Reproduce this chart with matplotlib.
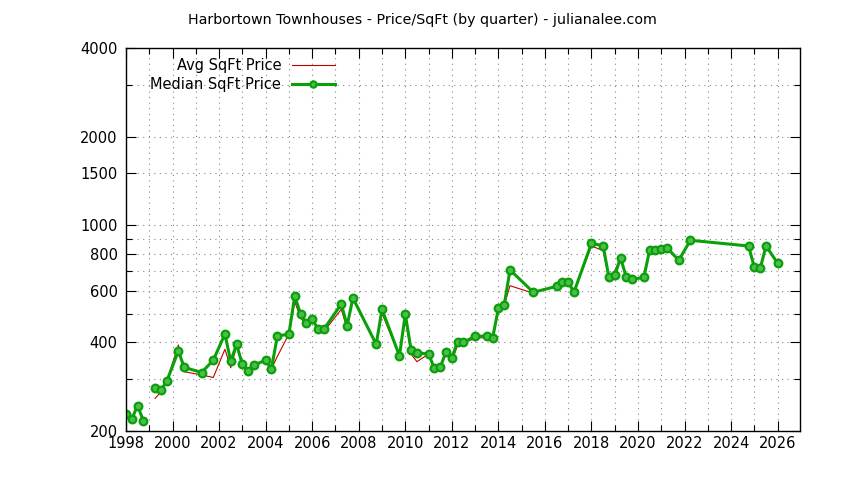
import numpy as np
import matplotlib
matplotlib.use("Agg")
import matplotlib.pyplot as plt
from matplotlib.ticker import FixedLocator, NullFormatter

plt.rcParams["font.family"] = "DejaVu Sans"

# quarter positions (decimal year), NaN row breaks the line after 1998
quarters = [
    1998.00, 1998.25, 1998.50, 1998.75, 1999.00, 1999.25, 1999.50, 1999.75,
    2000.25, 2000.50, 2001.25, 2001.75, 2002.25, 2002.50, 2002.75, 2003.00,
    2003.25, 2003.50, 2004.00, 2004.25, 2004.50, 2005.00, 2005.25, 2005.50,
    2005.75, 2006.00, 2006.25, 2006.50, 2007.25, 2007.50, 2007.75, 2008.75,
    2009.00, 2009.75, 2010.00, 2010.25, 2010.50, 2011.00, 2011.25, 2011.50,
    2011.75, 2012.00, 2012.25, 2012.50, 2013.00, 2013.50, 2013.75, 2014.00,
    2014.25, 2014.50, 2015.50, 2016.50, 2016.75, 2017.00, 2017.25, 2018.00,
    2018.50, 2018.75, 2019.00, 2019.25, 2019.50, 2019.75, 2020.25, 2020.50,
    2020.75, 2021.00, 2021.25, 2021.75, 2022.25, 2024.75, 2025.00, 2025.25,
    2025.50, 2026.00,
]

median_price = [
    228, 220, 244, 216, np.nan, 281, 275, 295,
    374, 329, 316, 348, 427, 345, 394, 337,
    320, 335, 348, 325, 420, 427, 575, 499,
    464, 479, 445, 443, 540, 456, 566, 394,
    518, 360, 499, 377, 369, 365, 327, 329,
    371, 355, 402, 400, 420, 420, 413, 522,
    535, 705, 592, 620, 640, 640, 593, 868,
    852, 665, 676, 774, 665, 655, 665, 824,
    823, 830, 838, 760, 889, 850, 719, 714,
    850, 743,
]

avg_price = [
    228, 220, 244, 216, np.nan, 258, 272, 295,
    392, 318, 310, 304, 379, 328, 387, 337,
    320, 335, 348, 325, 358, 427, 550, 485,
    458, 479, 441, 435, 518, 446, 566, 394,
    502, 360, 483, 365, 344, 365, 327, 329,
    371, 344, 392, 398, 413, 416, 413, 522,
    535, 623, 588, 620, 640, 640, 593, 850,
    820, 665, 700, 774, 665, 655, 665, 824,
    823, 830, 838, 760, 889, 850, 719, 714,
    850, 743,
]

y_major = [200, 400, 600, 800, 1000, 1500, 2000, 4000]
y_minor = [300, 500, 700, 900, 3000]

fig = plt.figure(figsize=(8.44, 4.8), dpi=100)
ax = fig.add_axes([126 / 844, 1 - 431 / 480, 674 / 844, 383 / 480])

ax.plot(quarters, avg_price, color="#c00000", lw=0.8, label="Avg SqFt Price")
ax.plot(quarters, median_price, color="#0aa00a", lw=2.2, marker="o", ms=5.5,
        mfc="#4cbc4c", mec="#0aa00a", mew=1.6, label="Median SqFt Price")

ax.set_yscale("log")
ax.set_ylim(200, 4000)
ax.set_xlim(1998, 2026.96)

ax.yaxis.set_major_locator(FixedLocator(y_major))
ax.yaxis.set_minor_locator(FixedLocator(y_minor))
ax.set_yticklabels([str(v) for v in y_major])
ax.yaxis.set_minor_formatter(NullFormatter())
ax.set_xticks(range(1998, 2027, 2))
ax.set_xticks(range(1998, 2027), minor=True)

ax.tick_params(which="both", direction="in", top=True, right=True,
               labelsize=10.5, colors="black")
ax.tick_params(which="major", length=7, width=0.8)
ax.tick_params(which="minor", length=4, width=0.8)
ax.tick_params(axis="y", pad=6)

ax.grid(which="both", linestyle=(0, (1, 4)), color="#888888", lw=0.8)
ax.set_axisbelow(True)
for sp in ax.spines.values():
    sp.set_linewidth(1.0)

fig.text(422 / 844, 1 - 20 / 480, "Harbortown Townhouses - Price/SqFt (by quarter) - julianalee.com",
         ha="center", va="center", fontsize=10.3)

leg = ax.legend(loc="upper left", bbox_to_anchor=(0.019, 1.005), frameon=False,
                markerfirst=False, fontsize=10.5, handlelength=3.0,
                handletextpad=0.7, labelspacing=0.3, borderaxespad=0.4)
leg.legend_handles[1].set_markersize(4.5)

fig.savefig("out.png", dpi=100)
